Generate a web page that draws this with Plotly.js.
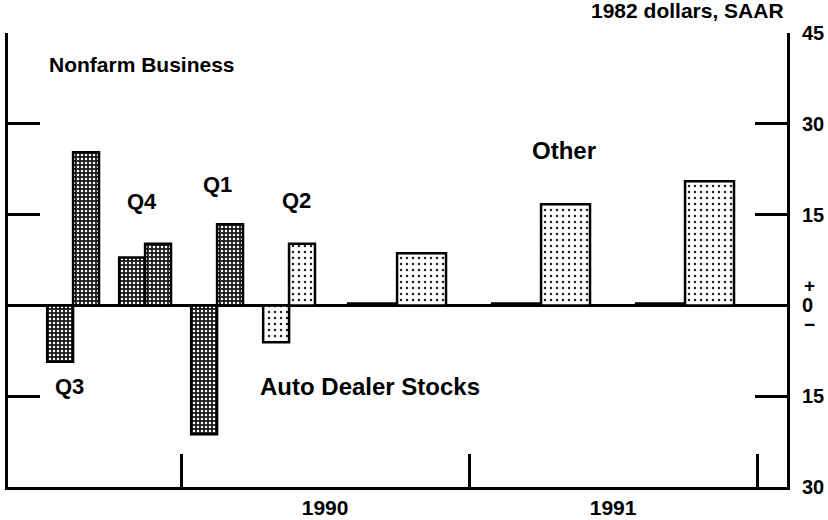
<!DOCTYPE html>
<html>
<head>
<meta charset="utf-8">
<script src="https://cdn.plot.ly/plotly-3.0.1.min.js"></script>
<style>html,body{margin:0;padding:0;background:#fff;}#chart{width:828px;height:520px;}</style>
</head>
<body>
<div id="chart"></div>
<script>
// ---- data ----
const periods = ['1989Q3', '1989Q4', '1990Q1', '1990Q2', '1990H2', '1991H1', '1991H2'];
const autoDealerStocks = [-9.3, 7.9, -21.3, -6.1, 0.3, 0.3, 0.3];
const otherStocks = [25.3, 10.2, 13.4, 10.2, 8.6, 16.7, 20.5];
const projected = [false, false, false, true, true, true, true];
const yTickVals = [-30, -15, 0, 15, 30, 45];
const yTickText = ['30', '15', '0', '15', '30', '45'];
const yearTickVals = [1990, 1991, 1992];
const yearLabelVals = [1990.5, 1991.5];
const yearLabelText = ['1990', '1991'];

// ---- helpers ----
function periodX(p) {
  const yr = parseInt(p.slice(0, 4), 10);
  const kind = p[4];
  const n = parseInt(p.slice(5), 10);
  return kind === 'Q' ? yr + (n - 0.5) / 4 : yr + (n - 0.5) / 2;
}
function periodWidth(p) { return p[4] === 'Q' ? 0.09 : 0.17; }

const FONT = 'Liberation Sans, Arial, Helvetica, sans-serif';

const darkMarker = {
  color: '#151515',
  line: { color: '#000', width: 2.5 },
  pattern: { shape: '.', fillmode: 'replace', bgcolor: '#1a1a1a', fgcolor: '#ffffff', size: 4, solidity: 0.32 }
};
const lightMarker = {
  color: '#ffffff',
  line: { color: '#000', width: 2.5 },
  pattern: { shape: '.', fillmode: 'replace', bgcolor: '#ffffff', fgcolor: '#222222', size: 6, solidity: 0.14 }
};

function barTrace(name, values, isProj, side) {
  const idx = periods.map((p, i) => i).filter(i => projected[i] === isProj);
  const ps = idx.map(i => periods[i]);
  const ws = ps.map(periodWidth);
  return {
    type: 'bar', name,
    x: ps.map(periodX), y: idx.map(i => values[i]),
    width: ws, offset: ws.map(w => side === 'left' ? -w : 0),
    marker: isProj ? lightMarker : darkMarker, hoverinfo: 'skip'
  };
}

const traces = [
  barTrace('Auto Dealer Stocks', autoDealerStocks, false, 'left'),
  barTrace('Auto Dealer Stocks', autoDealerStocks, true, 'left'),
  barTrace('Other', otherStocks, false, 'right'),
  barTrace('Other', otherStocks, true, 'right'),
  { type: 'scatter', x: [1990], y: [0], xaxis: 'x2', mode: 'markers',
    marker: { opacity: 0 }, hoverinfo: 'skip', showlegend: false }
];

const xRange = [1989.399, 1992.104];
const lab = (text, x, y, size, anchor) => ({
  text, x, y, xref: 'x', yref: 'y', showarrow: false,
  xanchor: anchor || 'center', yanchor: 'middle',
  font: { family: FONT, size, color: '#000', weight: 'bold' }
});

const layout = {
  width: 828, height: 520,
  margin: { l: 8, r: 41, t: 33, b: 33 },
  paper_bgcolor: '#fff', plot_bgcolor: '#fff',
  showlegend: false, barmode: 'overlay',
  font: { family: FONT, size: 20, color: '#000' },
  xaxis: {
    range: xRange, tickmode: 'array', tickvals: yearLabelVals, ticktext: yearLabelText,
    ticks: '', showgrid: false, zeroline: false, showline: true, linecolor: '#000', linewidth: 3,
    tickfont: { family: FONT, size: 21, color: '#000', weight: 'bold' }
  },
  xaxis2: {
    range: xRange, overlaying: 'x', anchor: 'y', side: 'bottom',
    tickmode: 'array', tickvals: yearTickVals, showticklabels: false,
    ticks: 'inside', ticklen: 33, tickwidth: 3, tickcolor: '#000',
    showgrid: false, zeroline: false, showline: false
  },
  yaxis: {
    range: [-30, 45], side: 'right', tickmode: 'array', tickvals: yTickVals, ticktext: yTickText,
    ticks: 'inside', ticklen: 32, tickwidth: 3, tickcolor: '#000',
    showline: true, linecolor: '#000', linewidth: 3, mirror: 'ticks',
    showgrid: false, zeroline: true, zerolinecolor: '#000', zerolinewidth: 3,
    tickfont: { family: FONT, size: 20, color: '#000', weight: 'bold' }, ticklabelstandoff: 8
  },
  annotations: [
    lab('Nonfarm Business', 1989.535, 39.8, 21, 'left'),
    lab('Q4', 1989.865, 17.2, 22),
    lab('Q1', 1990.125, 20.0, 22),
    lab('Q2', 1990.40, 17.4, 22),
    lab('Q3', 1989.611, -13.4, 22),
    lab('Auto Dealer Stocks', 1990.656, -13.4, 24),
    lab('Other', 1991.33, 25.6, 24),
    { text: '1982 dollars, SAAR', xref: 'paper', yref: 'paper', x: 0.9987, y: 1.049,
      xanchor: 'right', yanchor: 'middle', showarrow: false,
      font: { family: FONT, size: 21, color: '#000', weight: 'bold' } },
    { text: '+', xref: 'paper', yref: 'y', x: 1.0295, y: 3.3, showarrow: false,
      xanchor: 'center', yanchor: 'middle', font: { family: FONT, size: 19, color: '#000', weight: 'bold' } },
    { text: '−', xref: 'paper', yref: 'y', x: 1.0295, y: -3.1, showarrow: false,
      xanchor: 'center', yanchor: 'middle', font: { family: FONT, size: 19, color: '#000', weight: 'bold' } }
  ]
};

Plotly.newPlot('chart', traces, layout, { staticPlot: true, displayModeBar: false });
</script>
</body>
</html>
